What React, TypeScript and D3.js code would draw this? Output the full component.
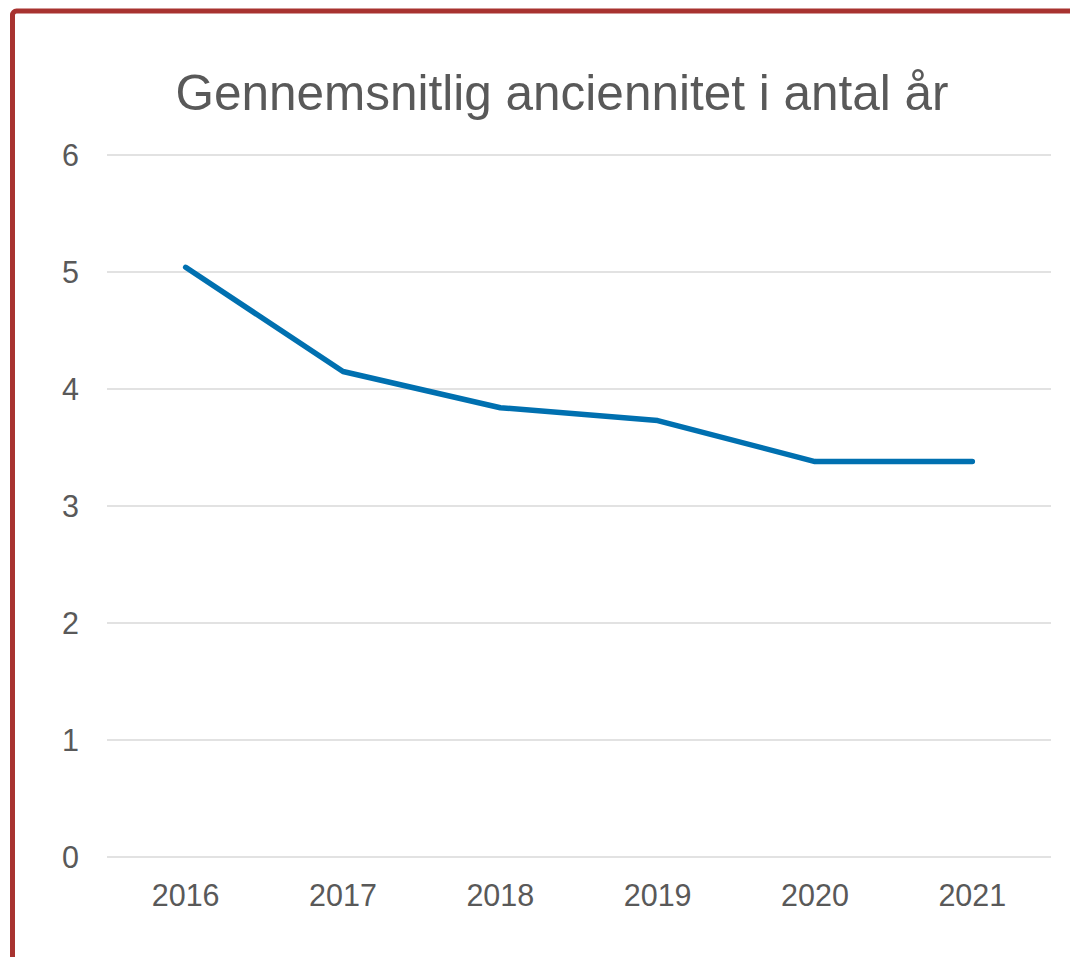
import React, { useEffect, useRef } from "react";
import * as d3 from "d3";

const years = ["2016", "2017", "2018", "2019", "2020", "2021"];
const seniority = [5.04, 4.15, 3.84, 3.73, 3.38, 3.38];
const yTicks = [0, 1, 2, 3, 4, 5, 6];
const title = "Gennemsnitlig anciennitet i antal år";

const W = 1070;
const H = 957;

export default function App() {
  const ref = useRef<SVGSVGElement>(null);

  useEffect(() => {
    const svg = d3.select(ref.current);
    svg.selectAll("*").remove();

    const margin = { top: 155, right: 19, bottom: 100, left: 107 };
    const font = "'Liberation Sans', Arial, sans-serif";
    const textColor = "#595959";

    // red frame, cut off at right and bottom like the original screenshot
    svg.append("rect")
      .attr("x", 12.5)
      .attr("y", 11)
      .attr("width", W + 40)
      .attr("height", H + 40)
      .attr("rx", 4)
      .attr("fill", "#fff")
      .attr("stroke", "#A83330")
      .attr("stroke-width", 5);

    const x = d3.scaleBand()
      .domain(years)
      .range([margin.left, W - margin.right]);

    const y = d3.scaleLinear()
      .domain([0, 6])
      .range([H - margin.bottom, margin.top]);

    svg.append("text")
      .attr("x", 562)
      .attr("y", 110)
      .attr("text-anchor", "middle")
      .attr("font-family", font)
      .attr("font-size", 49.5)
      .attr("fill", textColor)
      .text(title);

    // gridlines
    svg.append("g")
      .selectAll("line")
      .data(yTicks)
      .join("line")
      .attr("x1", margin.left)
      .attr("x2", W - margin.right)
      .attr("y1", d => y(d))
      .attr("y2", d => y(d))
      .attr("stroke", "#D9D9D9")
      .attr("stroke-width", 1.5);

    // y labels
    svg.append("g")
      .selectAll("text")
      .data(yTicks)
      .join("text")
      .attr("x", 79)
      .attr("y", d => y(d) + 11)
      .attr("text-anchor", "end")
      .attr("font-family", font)
      .attr("font-size", 30.5)
      .attr("fill", textColor)
      .text(d => d);

    // x labels
    svg.append("g")
      .selectAll("text")
      .data(years)
      .join("text")
      .attr("x", d => x(d)! + x.bandwidth() / 2)
      .attr("y", 906)
      .attr("text-anchor", "middle")
      .attr("font-family", font)
      .attr("font-size", 30.5)
      .attr("fill", textColor)
      .text(d => d);

    const line = d3.line<number>()
      .x((d, i) => x(years[i])! + x.bandwidth() / 2)
      .y(d => y(d));

    svg.append("path")
      .datum(seniority)
      .attr("d", line)
      .attr("fill", "none")
      .attr("stroke", "#0070B0")
      .attr("stroke-width", 5.5)
      .attr("stroke-linecap", "round")
      .attr("stroke-linejoin", "round");
  }, []);

  return (
    <svg
      ref={ref}
      width={W}
      height={H}
      style={{ position: "absolute", left: 0, top: 0, background: "#fff" }}
    />
  );
}
